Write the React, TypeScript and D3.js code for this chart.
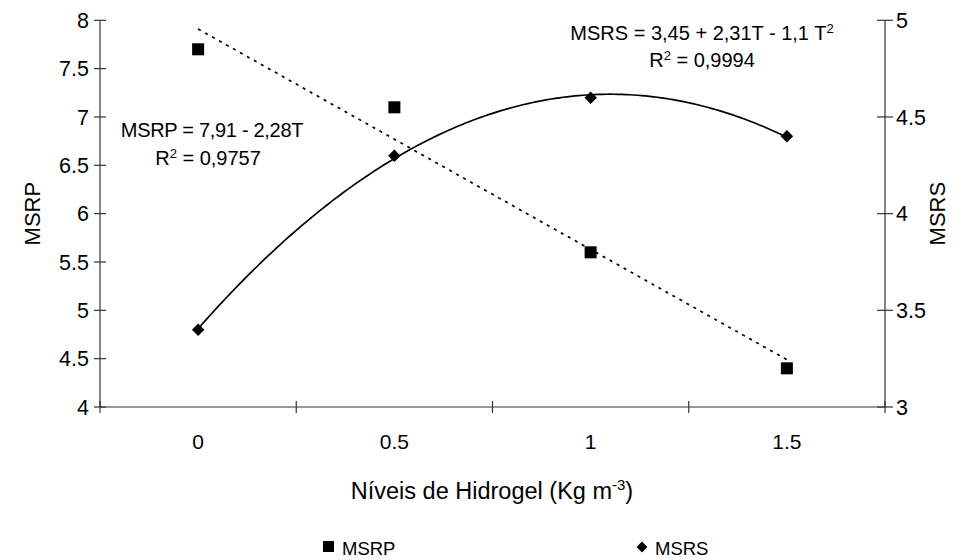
import React from "react";
import * as d3 from "d3";

const categories = ["0", "0.5", "1", "1.5"];
const levels = [0, 0.5, 1, 1.5];
const msrp = [7.7, 7.1, 5.6, 4.4];
const msrs = [3.4, 4.3, 4.6, 4.4];
const leftTicks = [4, 4.5, 5, 5.5, 6, 6.5, 7, 7.5, 8];
const rightTicks = [3, 3.5, 4, 4.5, 5];

const W = 974;
const H = 560;
const FONT = "'Liberation Sans', Arial, sans-serif";

// least-squares polynomial fit (degree deg) of ys against xs
function polyFit(xs: number[], ys: number[], deg: number): number[] {
  const n = deg + 1;
  const A: number[][] = [];
  for (let r = 0; r < n; r++) {
    const row: number[] = [];
    for (let c = 0; c < n; c++) row.push(d3.sum(xs, (x) => Math.pow(x, r + c)));
    row.push(d3.sum(xs, (x, i) => Math.pow(x, r) * ys[i]));
    A.push(row);
  }
  for (let i = 0; i < n; i++) {
    let p = i;
    for (let k = i + 1; k < n; k++) if (Math.abs(A[k][i]) > Math.abs(A[p][i])) p = k;
    [A[i], A[p]] = [A[p], A[i]];
    for (let k = 0; k < n; k++) {
      if (k === i) continue;
      const f = A[k][i] / A[i][i];
      for (let c = i; c <= n; c++) A[k][c] -= f * A[i][c];
    }
  }
  return A.map((row, i) => row[n] / row[i]);
}

export default function App() {
  const left = 100, right = 885, top = 20.3, bottom = 407;
  const x = d3.scaleBand<string>().domain(categories).range([left, right]);
  const cx = (c: string) => (x(c) as number) + x.bandwidth() / 2;
  const xT = d3.scaleLinear().domain([levels[0], levels[levels.length - 1]]).range([cx(categories[0]), cx(categories[categories.length - 1])]);
  const yL = d3.scaleLinear().domain([4, 8]).range([bottom, top]);
  const yR = d3.scaleLinear().domain([3, 5]).range([bottom, top]);

  const msrpCoef = polyFit(levels, msrp, 1);
  const msrsCoef = polyFit(levels, msrs, 2);
  const ts = d3.range(0, 1.5 + 1e-9, 0.01);
  const poly = (coef: number[], t: number) => coef.reduce((s, c, i) => s + c * Math.pow(t, i), 0);
  const lineL = d3.line<number>().x((t) => xT(t)).y((t) => yL(poly(msrpCoef, t)));
  const lineR = d3.line<number>().x((t) => xT(t)).y((t) => yR(poly(msrsCoef, t)));
  const diamond = d3.symbol().type(d3.symbolDiamond2).size(100)();

  const axisColor = "#333";
  const bounds = [...categories.map((c) => x(c) as number), right];

  return (
    <svg width={W} height={H} style={{ position: "absolute", left: 0, top: 0, background: "#fff" }} fontFamily={FONT}>
      <line x1={left} x2={left} y1={top} y2={bottom} stroke={axisColor} strokeWidth={1.2} />
      <line x1={right} x2={right} y1={top} y2={bottom} stroke={axisColor} strokeWidth={1.2} />
      <line x1={left} x2={right} y1={bottom} y2={bottom} stroke={axisColor} strokeWidth={1.2} />
      {leftTicks.map((v) => (
        <g key={"l" + v}>
          <line x1={left - 6} x2={left + 6} y1={yL(v)} y2={yL(v)} stroke={axisColor} strokeWidth={1.2} />
          <text x={left - 11} y={yL(v)} dy="0.36em" textAnchor="end" fontSize={21.5} fill="#000">{String(v)}</text>
        </g>
      ))}
      {rightTicks.map((v) => (
        <g key={"r" + v}>
          <line x1={right - 8} x2={right + 8} y1={yR(v)} y2={yR(v)} stroke={axisColor} strokeWidth={1.2} />
          <text x={right + 11} y={yR(v)} dy="0.36em" textAnchor="start" fontSize={21.5} fill="#000">{String(v)}</text>
        </g>
      ))}
      {bounds.map((b, i) => (
        <line key={"xt" + i} x1={b} x2={b} y1={bottom - 6} y2={bottom + 6} stroke={axisColor} strokeWidth={1.2} />
      ))}
      {categories.map((c) => (
        <text key={"xl" + c} x={cx(c)} y={449} textAnchor="middle" fontSize={21} fill="#000">{c}</text>
      ))}
      <text x={492} y={499} textAnchor="middle" fontSize={23.5} fill="#000">
        Níveis de Hidrogel (Kg m<tspan dy={-9} fontSize={15}>-3</tspan><tspan dy={9}>)</tspan>
      </text>
      <text transform={`translate(40,${(top + bottom) / 2}) rotate(-90)`} textAnchor="middle" fontSize={22} fill="#000">MSRP</text>
      <text transform={`translate(945,${(top + bottom) / 2}) rotate(-90)`} textAnchor="middle" fontSize={22} fill="#000">MSRS</text>

      <path d={lineL(ts) || ""} fill="none" stroke="#000" strokeWidth={1.7} strokeDasharray="3 5" />
      <path d={lineR(ts) || ""} fill="none" stroke="#000" strokeWidth={1.7} />

      {categories.map((c, i) => (
        <rect key={"sq" + c} x={cx(c) - 6} y={yL(msrp[i]) - 6} width={12} height={12} fill="#000" />
      ))}
      {categories.map((c, i) => (
        <path key={"dm" + c} d={diamond || ""} transform={`translate(${cx(c)},${yR(msrs[i])})`} fill="#000" />
      ))}

      <text x={212} y={137} textAnchor="middle" fontSize={20} fill="#000" letterSpacing={-0.3}>MSRP = 7,91 - 2,28T</text>
      <text x={208} y={165} textAnchor="middle" fontSize={20} fill="#000">R<tspan dy={-7} fontSize={13}>2</tspan><tspan dy={7}> = 0,9757</tspan></text>
      <text x={702} y={40} textAnchor="middle" fontSize={20} fill="#000">MSRS = 3,45 + 2,31T - 1,1 T<tspan dy={-7} fontSize={13}>2</tspan></text>
      <text x={702} y={67} textAnchor="middle" fontSize={20} fill="#000">R<tspan dy={-7} fontSize={13}>2</tspan><tspan dy={7}> = 0,9994</tspan></text>

      <rect x={323} y={541} width={11} height={11} fill="#000" />
      <text x={342} y={555} fontSize={18.5} fill="#000">MSRP</text>
      <path d={d3.symbol().type(d3.symbolDiamond2).size(75)() || ""} transform="translate(642,547)" fill="#000" />
      <text x={655} y={555} fontSize={18.5} fill="#000">MSRS</text>
    </svg>
  );
}
